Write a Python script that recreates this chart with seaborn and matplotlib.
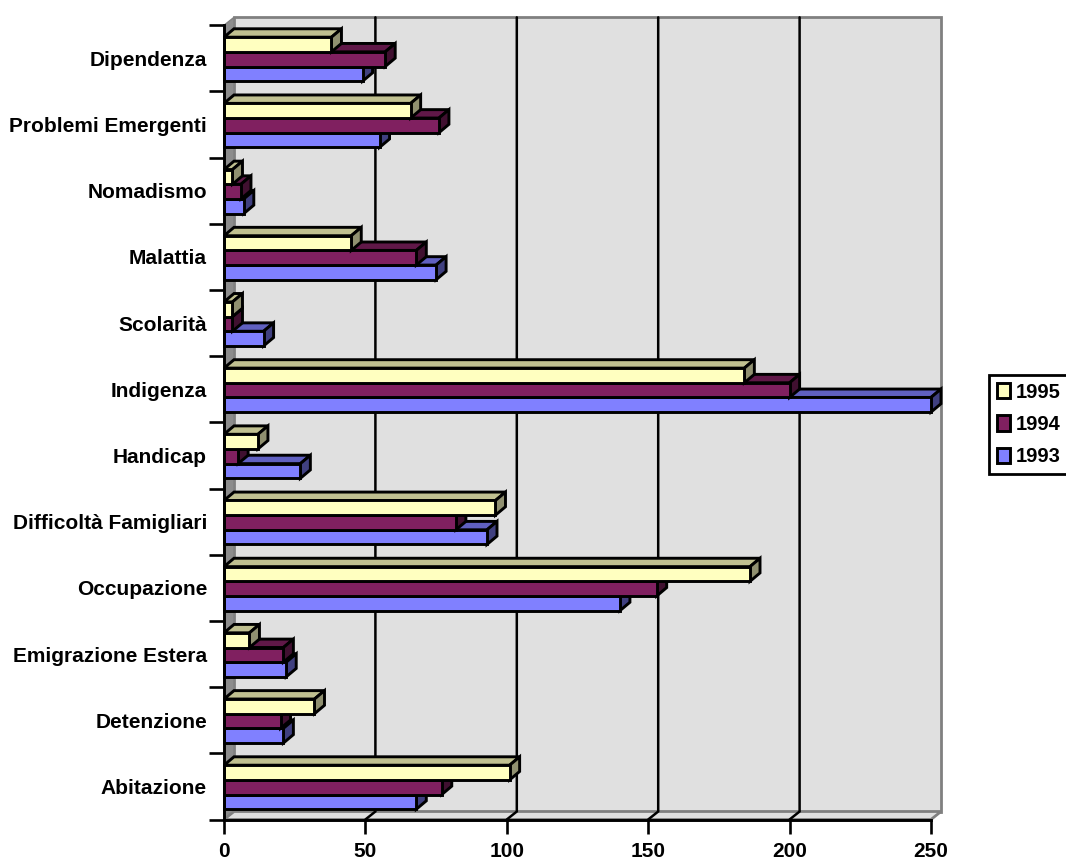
import matplotlib
matplotlib.use("Agg")
import matplotlib.pyplot as plt
from matplotlib.patches import Polygon
from matplotlib.lines import Line2D
import pandas as pd
import seaborn as sns

categories = ["Dipendenza", "Problemi Emergenti", "Nomadismo", "Malattia", "Scolarità", "Indigenza",
              "Handicap", "Difficoltà Famigliari", "Occupazione", "Emigrazione Estera", "Detenzione", "Abitazione"]
values_1995 = [38, 66, 3, 45, 3, 184, 12, 96, 186, 9, 32, 101]
values_1994 = [57, 76, 6, 68, 3, 200, 5, 82, 153, 21, 20, 77]
values_1993 = [49, 55, 7, 75, 14, 250, 27, 93, 140, 22, 21, 68]
years = ["1995", "1994", "1993"]
xticks = [0, 50, 100, 150, 200, 250]

front = {"1995": "#FFFFC0", "1994": "#802060", "1993": "#8080FF"}
top_c = {"1995": "#C0C090", "1994": "#601848", "1993": "#6060C0"}
side_c = {"1995": "#909070", "1994": "#401030", "1993": "#404080"}

df = pd.DataFrame({"cat": categories * 3,
                   "year": sum([[y] * len(categories) for y in years], []),
                   "val": values_1995 + values_1994 + values_1993})

sns.set_theme(style="white")
plt.rcParams["font.family"] = ["Liberation Sans", "DejaVu Sans"]
plt.rcParams["font.weight"] = "bold"
plt.rcParams["text.color"] = "black"

W, H = 1066, 860
TOP, BOT = 25.3, 819.5
fig = plt.figure(figsize=(W / 100, H / 100), dpi=100, facecolor="white")
ax = fig.add_axes([224 / W, 1 - BOT / H, (931 - 224) / W, (BOT - TOP) / H])
ax.patch.set_visible(False)

sns.barplot(data=df, y="cat", x="val", hue="year", order=categories, hue_order=years,
            palette=front, orient="h", width=0.665, edgecolor="black", linewidth=2.1,
            saturation=1, ax=ax, errorbar=None)

ax.set_xlim(0, 250)
ax.set_ylim(11.5, -0.5)
ax.set_xlabel("")
ax.set_ylabel("")

ppx = 250 / (931 - 224)
ppy = 12 / (BOT - TOP)
dx = 10 * ppx
dy = 8 * ppy
bdy = 8.4 * ppy
y0, y1 = -0.5, 11.5

# 3D walls
wall = "#E0E0E0"
grey = "#808080"
ax.add_patch(Polygon([(dx, y0 - dy), (250 + dx, y0 - dy), (250 + dx, y1 - dy), (dx, y1 - dy)],
                     fc=wall, ec=grey, lw=2, clip_on=False, zorder=0.5))
ax.add_patch(Polygon([(0, y0), (dx, y0 - dy), (dx, y1 - dy), (0, y1)],
                     fc="#8C8C8C", ec=grey, lw=1, clip_on=False, zorder=0.6))
ax.add_patch(Polygon([(0, y1), (dx, y1 - dy), (250 + dx, y1 - dy), (250, y1)],
                     fc=wall, ec=grey, lw=2, clip_on=False, zorder=0.6))
for v in xticks:
    if 0 < v < 250:
        ax.add_line(Line2D([v + dx, v + dx, v], [y0 - dy, y1 - dy, y1], color="black", lw=1.8,
                           clip_on=False, zorder=0.8, solid_joinstyle="miter"))

# bar depth faces: within a group the lower bars go first, so upper bars paint over their top faces
z = 2.0
bars = []
for container, year in zip(ax.containers, years):
    for patch in container:
        bars.append((patch, year))
bars.sort(key=lambda b: -b[0].get_y())
shift = 0.8 * ppy
for patch, year in bars:
    patch.set_y(patch.get_y() + shift)
    x, y, w, h = patch.get_x(), patch.get_y(), patch.get_width(), patch.get_height()
    patch.set_zorder(z + 0.2)
    patch.set_clip_on(False)
    patch.set_joinstyle("miter")
    ax.add_patch(Polygon([(x, y), (x + dx, y - bdy), (x + w + dx, y - bdy), (x + w, y)],
                         fc=top_c[year], ec="black", lw=2.1, clip_on=False, zorder=z, joinstyle="miter"))
    ax.add_patch(Polygon([(x + w, y), (x + w + dx, y - bdy), (x + w + dx, y + h - bdy), (x + w, y + h)],
                         fc=side_c[year], ec="black", lw=2.1, clip_on=False, zorder=z + 0.1, joinstyle="miter"))
    z += 1

# axes
for s in ("top", "right"):
    ax.spines[s].set_visible(False)
for s in ("left", "bottom"):
    ax.spines[s].set_color("black")
    ax.spines[s].set_linewidth(2.1)
    ax.spines[s].set_zorder(60)
ax.set_xticks(xticks)
ax.set_yticks([i - 0.5 for i in range(13)], minor=True)
ax.tick_params(axis="x", which="major", bottom=True, length=10, width=1.9, color="black", pad=6,
               labelsize=15, labelcolor="black")
ax.tick_params(axis="y", which="major", left=False, length=0, pad=12.2, labelsize=15, labelcolor="black")
ax.tick_params(axis="y", which="minor", left=True, length=10.5, width=1.9, color="black")
for lab in ax.get_xticklabels() + ax.get_yticklabels():
    lab.set_fontweight("bold")

sns.move_legend(ax, "upper left", bbox_to_anchor=(989 / W, 1 - 375 / H), bbox_transform=fig.transFigure,
                title=None, frameon=True, fancybox=False, edgecolor="black", framealpha=1,
                fontsize=14.5, handlelength=0.65, handleheight=0.8, handletextpad=0.3, labelspacing=0.66,
                borderpad=0.38, borderaxespad=0, labelcolor="black")
leg = ax.get_legend()
leg.get_frame().set_linewidth(2)
leg.set_zorder(100)

fig.savefig("out.png", dpi=100, facecolor="white")
